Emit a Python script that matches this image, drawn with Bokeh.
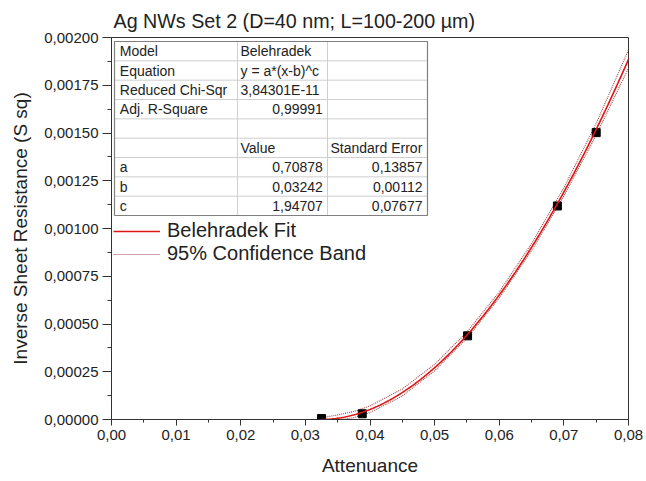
import numpy as np
from bokeh.plotting import figure
from bokeh.models import Range1d, FixedTicker, CustomJSTickFormatter, Legend, LegendItem
from bokeh.core.properties import value
from bokeh.embed import file_html
from bokeh.resources import INLINE

FONT = "Liberation Sans"
INK = "#222222"

# Measured points: attenuance vs inverse sheet resistance
atten = [0.0325, 0.0388, 0.0551, 0.0690, 0.0750]
inv_rs = [0.000005, 0.000030, 0.000438, 0.001118, 0.001502]

# Belehradek fit parameters y = a*(x-b)^c
fit_a = 0.70878
fit_b = 0.03242
fit_c = 1.94707

# 95% confidence band, upper and lower limits
band_x = [0.0325, 0.0335, 0.0350, 0.0375, 0.0400, 0.0450, 0.0500, 0.0550,
          0.0600, 0.0650, 0.0700, 0.0750, 0.0800]
band_upper = [0.000008, 0.000015, 0.000024, 0.000042, 0.000071, 0.000160, 0.000289,
              0.000458, 0.000668, 0.000921, 0.001213, 0.001550, 0.001935]
band_lower = [-0.000006, -0.000006, -0.000004, 0.000010, 0.000036, 0.000123, 0.000255,
              0.000426, 0.000636, 0.000884, 0.001170, 0.001489, 0.001840]

x_ticks = [0.00, 0.01, 0.02, 0.03, 0.04, 0.05, 0.06, 0.07, 0.08]
y_ticks = [0.0, 0.00025, 0.0005, 0.00075, 0.001, 0.00125, 0.0015, 0.00175, 0.002]

# Fit report table
tab_col1 = ["Model", "Equation", "Reduced Chi-Sqr", "Adj. R-Square", "", "", "a", "b", "c"]
tab_col2 = ["Belehradek", "y = a*(x-b)^c", "3,84301E-11", "0,99991", "", "Value",
            "0,70878", "0,03242", "1,94707"]
tab_col3 = ["", "", "", "", "", "Standard Error", "0,13857", "0,00112", "0,07677"]

X0, X1 = 0.0, 0.08
Y0, Y1 = 0.0, 0.002

p = figure(width=646, height=481, output_backend="svg", toolbar_location=None,
           x_range=Range1d(X0, X1), y_range=Range1d(Y0, Y1),
           min_border_left=111, min_border_right=18, min_border_top=37,
           min_border_bottom=62)
p.background_fill_color = "white"
p.border_fill_color = "white"
p.xgrid.visible = False
p.ygrid.visible = False
p.outline_line_color = "#333333"
p.outline_line_width = 1

p.title.text = "Ag NWs Set 2 (D=40 nm; L=100-200 µm)"
p.title.text_font = FONT
p.title.text_font_size = "19.7px"
p.title.text_font_style = "normal"
p.title.text_color = INK
p.title.align = "left"
p.title.offset = 2
p.title.standoff = 12

xa = p.xaxis[0]
xa.ticker = FixedTicker(ticks=x_ticks,
                        minor_ticks=[t + 0.005 for t in x_ticks[:-1]])
xa.formatter = CustomJSTickFormatter(code="return tick.toFixed(2).replace('.', ',');")
xa.axis_label = "Attenuance"
xa.major_tick_out = 6
xa.major_tick_in = 0
xa.minor_tick_out = 3
xa.minor_tick_in = 0
xa.major_label_standoff = 4

ya = p.yaxis[0]
ya.ticker = FixedTicker(ticks=y_ticks,
                        minor_ticks=[t + 0.000125 for t in y_ticks[:-1]])
ya.formatter = CustomJSTickFormatter(code="return tick.toFixed(5).replace('.', ',');")
ya.axis_label = "Inverse Sheet Resistance (S sq)"
ya.major_tick_out = 9
ya.major_tick_in = 0
ya.minor_tick_out = 4
ya.minor_tick_in = 0
ya.major_label_standoff = 4

for ax in (xa, ya):
    ax.axis_line_color = "#333333"
    ax.major_tick_line_color = "#333333"
    ax.minor_tick_line_color = "#333333"
    ax.major_label_text_font = FONT
    ax.major_label_text_font_size = "15px"
    ax.major_label_text_color = INK
    ax.axis_label_text_font = FONT
    ax.axis_label_text_font_size = "19px"
    ax.axis_label_text_font_style = "normal"
    ax.axis_label_text_color = INK
xa.axis_label_standoff = 12
ya.axis_label_standoff = 10

# Confidence band limits
band_up_r = p.line(band_x, band_upper, line_color="#a04848", line_width=1.1, line_dash="1 1")
band_lo_r = p.line(band_x, band_lower, line_color="#a04848", line_width=1.1, line_dash="1 1")

# Data points
p.scatter(atten, inv_rs, marker="square", size=8, fill_color="black", line_color="black")

# Fitted curve
fit_x = np.linspace(fit_b, 0.0805, 300)
fit_y = fit_a * (fit_x - fit_b) ** fit_c
fit_r = p.line(fit_x, fit_y, line_color="#dd1515", line_width=1.6)

# Fit report table, laid out in fractions of the plot frame
def fx(f):
    return X0 + f * (X1 - X0)

def fy(f):
    return Y0 + f * (Y1 - Y0)

t_left, t_right = 0.0058, 0.6112
t_top, t_bottom = 0.9895, 0.5340
col_div = [0.2437, 0.4178]
n_rows = len(tab_col1)
row_h = (t_top - t_bottom) / n_rows

p.quad(left=[fx(t_left)], right=[fx(t_right)], top=[fy(t_top)], bottom=[fy(t_bottom)],
       fill_color="white", line_color=None)
h_y = [fy(t_top - row_h * (i + 1)) for i in range(n_rows - 1)]
p.segment(x0=[fx(t_left)] * len(h_y), x1=[fx(t_right)] * len(h_y), y0=h_y, y1=h_y,
          line_color="#cfcfcf", line_width=1)
p.segment(x0=[fx(c) for c in col_div], x1=[fx(c) for c in col_div],
          y0=[fy(t_bottom)] * 2, y1=[fy(t_top)] * 2, line_color="#cfcfcf", line_width=1)
p.quad(left=[fx(t_left)], right=[fx(t_right)], top=[fy(t_top)], bottom=[fy(t_bottom)],
       fill_color=None, line_color="#808080", line_width=1.2)

row_y = [fy(t_top - row_h * (i + 0.5)) for i in range(n_rows)]
txt = dict(text_font=value(FONT), text_font_size="14px", text_color=INK,
           text_baseline="middle")
p.text(x=[fx(0.0161)] * n_rows, y=row_y, text=tab_col1, text_align="left", **txt)

c2_left = [0, 1, 2, 5]
c2_right = [3, 6, 7, 8]
p.text(x=[fx(0.2495)] * len(c2_left), y=[row_y[i] for i in c2_left],
       text=[tab_col2[i] for i in c2_left], text_align="left", **txt)
p.text(x=[fx(0.4088)] * len(c2_right), y=[row_y[i] for i in c2_right],
       text=[tab_col2[i] for i in c2_right], text_align="right", **txt)
p.text(x=[fx(0.4236)], y=[row_y[5]], text=[tab_col3[5]], text_align="left", **txt)
p.text(x=[fx(0.6015)] * 3, y=row_y[6:9], text=tab_col3[6:9], text_align="right", **txt)

legend = Legend(items=[LegendItem(label="Belehradek Fit", renderers=[fit_r]),
                       LegendItem(label="95% Confidence Band", renderers=[band_up_r])],
                location=(2, 154), orientation="vertical",
                background_fill_alpha=0, border_line_alpha=0,
                padding=0, margin=0, spacing=0,
                glyph_width=47, glyph_height=20, label_height=20, label_standoff=7,
                label_text_font=FONT, label_text_font_size="20px", label_text_color=INK)
p.add_layout(legend)

open("out.html", "w").write(file_html(p, INLINE))
